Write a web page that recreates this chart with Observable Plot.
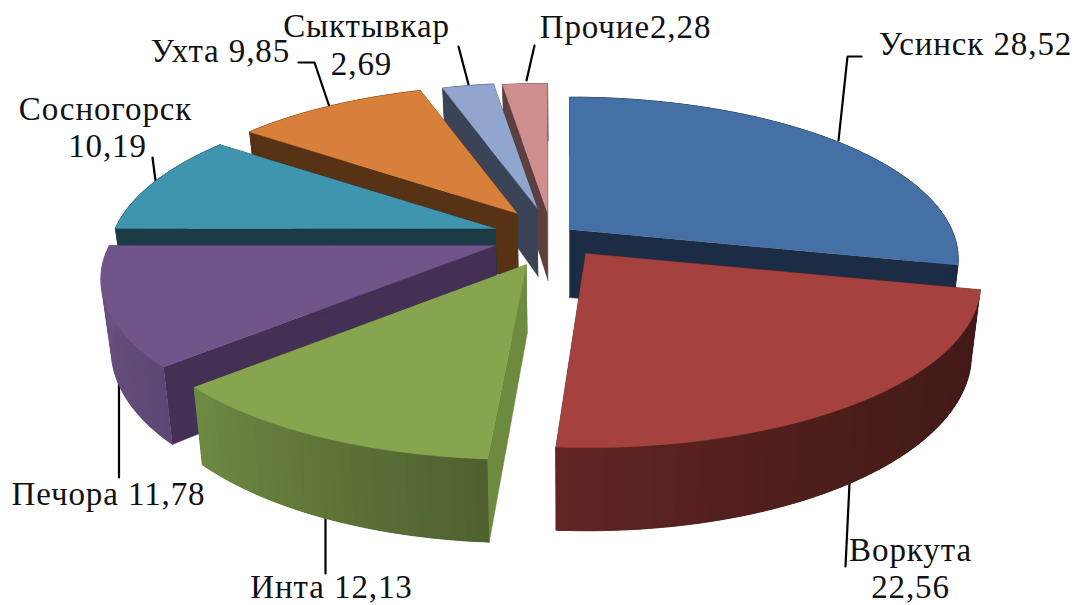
<!DOCTYPE html>
<html><head><meta charset="utf-8">
<script src="https://cdn.jsdelivr.net/npm/d3@7"></script>
<script src="https://cdn.jsdelivr.net/npm/@observablehq/plot@0.6"></script>
<style>html,body{margin:0;padding:0;background:#fff}svg{display:block}svg text{letter-spacing:0.9px}</style>
</head><body><div id="chart"></div>
<script>
// Data
const cities = ["Усинск","Воркута","Инта","Печора","Сосногорск","Ухта","Сыктывкар","Прочие"];
const shares = [28.52,22.56,12.13,11.78,10.19,9.85,2.69,2.28];

// Styles
const topColors  = ["#4570a6","#a54240","#87a44e","#70548a","#3f94ae","#d88039","#90a6cf","#cf8f8f"];
const cutColors  = ["#1b2c44","#421a18","#6e8a3e","#433054","#1b3a46","#583215","#3b4456","#5e3f3f"];
const wallStart  = ["#1b2c44","#421a18","#4f6030","#5d4875","#1b3a46","#583215","#3b4456","#5e3f3f"];
const wallEnd    = ["#1b2c44","#622524","#6f8a42","#6d5386","#1b3a46","#583215","#3b4456","#5e3f3f"];

// Layout of the exploded, tilted pie (in chart units)
const apexX = [569,585,526,495,495,517,537,547];
const apexY = [229,253,264,245,228,213,208,212];
const sizeK = [.98,.995,1,.99,.975,.95,.93,.955];
const drawOrder = [0,7,6,5,4,3,2,1];
const R = 390, Rb = 159.6, persp = 0.182, D = 68, vanishX = 569, shrink = 0.978, spread = 0.7;

// Label layout
const labels = [
  {t:"Усинск 28,52", x:975, y:55},
  {t:"Воркута", x:910, y:561},
  {t:"22,56", x:910, y:598},
  {t:"Инта 12,13", x:331, y:598},
  {t:"Печора 11,78", x:108, y:505},
  {t:"Сосногорск", x:105, y:120},
  {t:"10,19", x:107, y:157},
  {t:"Ухта 9,85", x:220, y:62},
  {t:"Сыктывкар", x:366, y:37},
  {t:"2,69", x:361, y:75},
  {t:"Прочие2,28", x:625, y:38}
];
const leaders = [
  [[838,140],[847,56],[861,56]],
  [[849,483],[845,566]],
  [[325,515],[325,573]],
  [[118.5,382],[118.5,477]],
  [[155,180],[152,157]],
  [[328.5,105],[314,62],[298,62]],
  [[468,84],[458,46]],
  [[526,80],[534,45]]
];

// Slice angles come from the values
const arcs = d3.pie().sort(null).value(d => d)(shares);
const step = 1.5 * Math.PI / 180;

function pt(i, a, low) {
  const u = Math.sin(a), v = Math.cos(a), p = 1 / (1 + persp * v), s = p * sizeK[i];
  let x = apexX[i] + R * u * s + spread * (apexX[i] - vanishX) * Math.max(0, p - 1);
  let y = apexY[i] - Rb * v * s;
  if (low) { y += D * p; x = vanishX + (x - vanishX) * shrink; }
  return [x, y];
}
function centre(i, low) {
  let x = apexX[i], y = apexY[i];
  if (low) { y += D; x = vanishX + (x - vanishX) * shrink; }
  return [x, y];
}
const rows = [];
let pid = 0;
function poly(points, fill) {
  const id = pid++;
  for (const [x, y] of points) rows.push({id, x, y, fill});
}
for (const i of drawOrder) {
  const {startAngle: a0, endAngle: a1} = arcs[i];
  const n = Math.max(2, Math.ceil((a1 - a0) / step));
  const at = j => a0 + (a1 - a0) * j / n;
  // cut faces
  poly([centre(i), pt(i,a0), pt(i,a0,true), centre(i,true)], cutColors[i]);
  poly([centre(i), pt(i,a1), pt(i,a1,true), centre(i,true)], cutColors[i]);
  // outer wall: a solid underlay, then overlapping strips with a shading ramp
  const ramp = d3.interpolateRgb(wallStart[i], wallEnd[i]);
  const upper = [], lower = [];
  for (let j = 0; j <= n; j++) { upper.push(pt(i, at(j))); lower.unshift(pt(i, at(j), true)); }
  poly([...upper, ...lower], ramp(.5));
  for (let j = 0; j < n; j++) {
    const f = (j + .5) / n, j1 = Math.min(n, j + 2);
    poly([pt(i,at(j)), pt(i,at(j1)), pt(i,at(j1),true), pt(i,at(j),true)], ramp(i === 1 ? f * f : f));
  }
  // top face
  const top = [centre(i), ...upper];
  poly(top, topColors[i]);
}
const leaderRows = leaders.flatMap((l, k) => l.map(([x, y]) => ({k, x, y})));

const chart = Plot.plot({
  width: 1076, height: 605,
  margin: 0,
  x: {domain: [0, 1076], range: [0, 1076], axis: null},
  y: {domain: [0, 605], range: [0, 605], axis: null},
  color: {type: "identity"},
  marks: [
    Plot.line(leaderRows, {x: "x", y: "y", z: "k", stroke: "#000", strokeWidth: 2.2, strokeLinejoin: "miter"}),
    Plot.line(rows, {x: "x", y: "y", z: "id", fill: "fill", stroke: "fill", strokeWidth: 0.4}),
    Plot.text(labels, {x: "x", y: "y", text: "t", fontFamily: "Liberation Serif", fontSize: 33, fill: "#111", textAnchor: "middle", lineAnchor: "bottom", dy: -1})
  ]
});
document.getElementById("chart").appendChild(chart);
</script></body></html>
